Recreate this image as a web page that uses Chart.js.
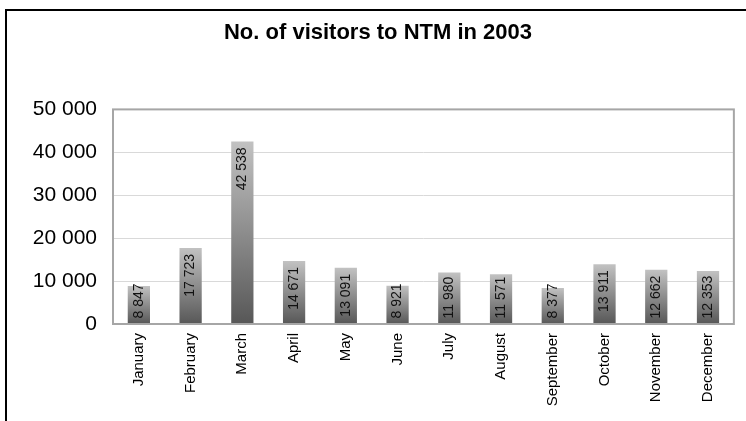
<!DOCTYPE html>
<html>
<head>
<meta charset="utf-8">
<script src="https://cdn.jsdelivr.net/npm/chart.js@4/dist/chart.umd.min.js"></script>
<style>
  html, body { margin: 0; padding: 0; background: #fff; overflow: hidden; }
  #frame {
    position: absolute; left: 5px; top: 9px; width: 800px; height: 500px;
    border-left: 2px solid #000; border-top: 2px solid #000;
  }
  #wrap { position: absolute; left: 21px; top: 11px; width: 714px; height: 411px; }
</style>
</head>
<body>
<div id="frame"></div>
<div id="wrap"><canvas id="chartBars"></canvas></div>
<script>
"use strict";

var months = ['January', 'February', 'March', 'April', 'May', 'June',
  'July', 'August', 'September', 'October', 'November', 'December'];
var visitors = [8847, 17723, 42538, 14671, 13091, 8921, 11980, 11571, 8377, 13911, 12662, 12353];
var yTicks = [0, 10000, 20000, 30000, 40000, 50000];

function fmt(v) {
  return String(v).replace(/\B(?=(\d{3})+(?!\d))/g, ' ');
}

// barra con degradado oscuro abajo, claro arriba
function barFill(ctx) {
  var chart = ctx.chart;
  if (!chart.chartArea || ctx.type !== 'data') return '#8a8a8a';
  var y = chart.scales.y;
  var top = y.getPixelForValue(ctx.raw);
  var base = y.getPixelForValue(0);
  var g = chart.ctx.createLinearGradient(0, base, 0, top);
  g.addColorStop(0, '#575757');
  g.addColorStop(1, '#c2c2c2');
  return g;
}

var plotFrame = {
  id: 'plotFrame',
  afterDraw: function(chart) {
    var a = chart.chartArea, c = chart.ctx;
    c.save();
    c.strokeStyle = '#a6a6a6';
    c.lineWidth = 2;
    c.strokeRect(a.left, a.top, a.right - a.left, a.bottom - a.top);
    c.restore();
  }
};

// etiqueta vertical dentro de la barra; si no cabe, se apoya en la base
var barLabels = {
  id: 'barLabels',
  afterDatasetsDraw: function(chart) {
    var c = chart.ctx;
    var meta = chart.getDatasetMeta(0);
    c.save();
    c.fillStyle = '#111';
    c.font = '14px "Liberation Sans", Arial, sans-serif';
    c.textAlign = 'right';
    c.textBaseline = 'middle';
    meta.data.forEach(function(bar, i) {
      var txt = fmt(visitors[i]);
      var w = c.measureText(txt).width;
      var anchor = Math.min(bar.y + 6, bar.base - 5 - w);
      c.save();
      c.translate(bar.x, anchor);
      c.rotate(-Math.PI / 2);
      c.fillText(txt, 0, 0);
      c.restore();
    });
    c.restore();
  }
};

new Chart(document.getElementById('chartBars'), {
  type: 'bar',
  data: {
    labels: months,
    datasets: [{
      data: visitors,
      backgroundColor: barFill,
      borderWidth: 0,
      barPercentage: 0.43,
      categoryPercentage: 1
    }]
  },
  options: {
    responsive: true,
    maintainAspectRatio: false,
    animation: false,
    layout: { padding: { top: 0, right: 0, bottom: 0, left: 0 } },
    plugins: {
      legend: { display: false },
      tooltip: { enabled: false },
      title: {
        display: true,
        text: 'No. of visitors to NTM in 2003',
        color: '#000',
        font: { family: '"Liberation Sans", Arial, sans-serif', size: 22, weight: 'bold' },
        padding: { top: 9, bottom: 63 }
      }
    },
    scales: {
      x: {
        grid: { display: false, drawTicks: false },
        border: { display: false },
        afterFit: function(s) { s.height = 98; },
        ticks: {
          color: '#000',
          minRotation: 90, maxRotation: 90,
          padding: 9,
          autoSkip: false,
          font: { family: '"Liberation Sans", Arial, sans-serif', size: 15 }
        }
      },
      y: {
        min: 0, max: 50000,
        afterFit: function(s) { s.width = 92; },
        afterBuildTicks: function(s) {
          s.ticks = yTicks.map(function(v) { return { value: v }; });
        },
        grid: { color: '#d9d9d9', lineWidth: 1, drawTicks: false },
        border: { display: false },
        ticks: {
          color: '#000',
          padding: 16,
          font: { family: '"Liberation Sans", Arial, sans-serif', size: 21 },
          callback: function(v) { return fmt(v); }
        }
      }
    }
  },
  plugins: [plotFrame, barLabels]
});
</script>
</body>
</html>
